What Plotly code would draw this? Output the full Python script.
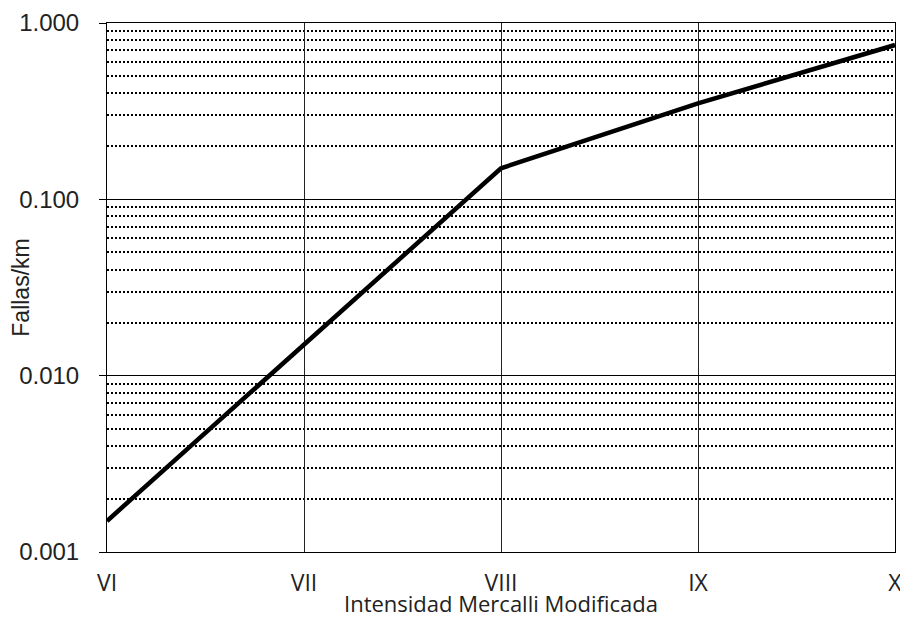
import plotly.graph_objects as go

categories = ["VI", "VII", "VIII", "IX", "X"]
fallas_km = [0.0015, 0.015, 0.15, 0.35, 0.75]
y_tick_vals = [0.001, 0.01, 0.1, 1]
y_tick_text = ["0.001", "0.010", "0.100", "1.000"]
minor_vals = [m * 10.0 ** e for e in (-3, -2, -1) for m in range(2, 10)]

fig = go.Figure()
fig.add_trace(go.Scatter(
    x=categories, y=fallas_km, mode="lines",
    line=dict(color="black", width=4.5), showlegend=False, hoverinfo="skip"))

fig.update_layout(
    width=900, height=610,
    margin=dict(l=99, r=13, t=15, b=66),
    paper_bgcolor="white", plot_bgcolor="white",
    font=dict(family="Liberation Sans, Arial", color="black"),
    annotations=[dict(text="Intensidad Mercalli Modificada", xref="paper", yref="paper",
                      x=0.5, y=-0.097, xanchor="center", yanchor="middle", showarrow=False,
                      font=dict(family="Open Sans", size=22, color="#222"))],
)
fig.update_xaxes(
    type="category", range=[0, 4], automargin=False,
    showgrid=True, gridcolor="#222", gridwidth=1,
    showline=True, linecolor="black", linewidth=1, mirror=True,
    ticks="outside", ticklen=10, tickcolor="rgba(0,0,0,0)",
    tickfont=dict(family="Open Sans", size=23, color="#222"),
    zeroline=False,
)
fig.update_yaxes(
    type="log", range=[-3, 0], automargin=False,
    tickmode="array", tickvals=y_tick_vals, ticktext=y_tick_text,
    tickfont=dict(family="Liberation Sans, Arial", size=24, color="#222"),
    ticks="outside", ticklen=7, tickcolor="black", ticklabelstandoff=15,
    showgrid=True, gridcolor="black", gridwidth=1,
    showline=True, linecolor="black", linewidth=1, mirror=True,
    minor=dict(tickmode="array", tickvals=minor_vals, showgrid=True,
               gridcolor="black", gridwidth=1.8, griddash="2px,2px", ticks=""),
    title=dict(text="Fallas/km", font=dict(family="Liberation Sans, Arial", size=23, color="#222"),
               standoff=14),
    zeroline=False,
)

fig.write_html("out.html")
